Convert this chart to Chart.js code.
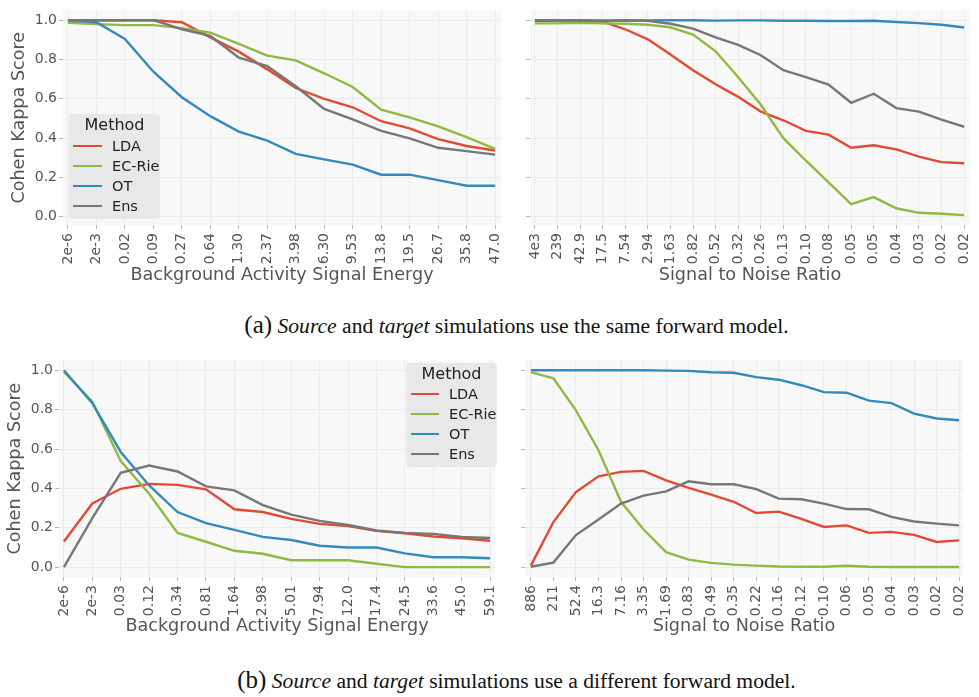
<!DOCTYPE html>
<html><head><meta charset="utf-8">
<script src="https://cdn.jsdelivr.net/npm/chart.js@4.4.1/dist/chart.umd.min.js"></script>
<style>
html,body{margin:0;padding:0;background:#fff;}
body{width:979px;height:697px;overflow:hidden;position:relative;}
.panel{position:absolute;display:block;}
.legend{position:absolute;background:rgba(229,229,229,0.85);border-radius:4px;font-family:'DejaVu Sans';color:#222;}
.legend .ttl{position:absolute;left:0;right:0;text-align:center;font-size:16px;line-height:20px;}
.legend .lab{position:absolute;font-size:14.5px;line-height:18px;}
.legend .ln{position:absolute;height:2.5px;}
.caption{position:absolute;left:0;width:979px;text-align:center;font-family:'Liberation Serif';font-size:21.6px;line-height:24px;color:#111;padding-left:54px;box-sizing:border-box;}
.caption .tag{font-size:25px;}
</style></head><body>
<canvas id="aL" class="panel"></canvas>
<canvas id="aR" class="panel"></canvas>
<canvas id="bL" class="panel"></canvas>
<canvas id="bR" class="panel"></canvas>
<div id="legA" class="legend"></div>
<div id="legB" class="legend"></div>
<div class="caption" style="top:313px"><span class="tag">(a)</span> <i>Source</i> and <i>target</i> simulations use the same forward model.</div>
<div class="caption" style="top:668px"><span class="tag">(b)</span> <i>Source</i> and <i>target</i> simulations use a different forward model.</div>
<script>
// ---- data ----
const methods = ['LDA', 'EC-Rie', 'OT', 'Ens'];
const yTickValues = [0, 0.2, 0.4, 0.6, 0.8, 1.0];
const xTitleLeft = 'Background Activity Signal Energy';
const xTitleRight = 'Signal to Noise Ratio';
const yTitle = 'Cohen Kappa Score';

const aLeftLabels = ['2e-6','2e-3','0.02','0.09','0.27','0.64','1.30','2.37','3.98','6.30','9.53','13.8','19.5','26.7','35.8','47.0'];
const aLeftLDA = [1.0,1.0,1.0,1.0,0.99,0.913,0.84,0.75,0.655,0.60,0.557,0.486,0.45,0.395,0.36,0.337];
const aLeftEC  = [0.987,0.98,0.975,0.975,0.96,0.937,0.88,0.82,0.796,0.73,0.66,0.545,0.506,0.46,0.405,0.345];
const aLeftOT  = [1.0,0.99,0.905,0.738,0.608,0.512,0.433,0.387,0.32,0.292,0.265,0.214,0.214,0.186,0.158,0.158];
const aLeftEns = [1.0,1.0,1.0,1.0,0.954,0.92,0.81,0.766,0.664,0.549,0.496,0.437,0.399,0.351,0.334,0.316];

const aRightLabels = ['4e3','239','42.9','17.5','7.54','2.94','1.63','0.82','0.52','0.32','0.26','0.13','0.10','0.08','0.05','0.05','0.04','0.03','0.02','0.02'];
const aRightLDA = [1.0,1.0,1.0,0.993,0.954,0.903,0.825,0.746,0.674,0.61,0.535,0.491,0.437,0.418,0.351,0.364,0.343,0.306,0.278,0.272];
const aRightEC  = [0.984,0.984,0.987,0.984,0.982,0.977,0.964,0.927,0.842,0.71,0.57,0.40,0.285,0.175,0.064,0.10,0.043,0.02,0.015,0.008];
const aRightOT  = [0.997,0.998,0.998,0.998,0.998,0.999,1.0,1.0,0.998,0.999,0.999,0.997,0.997,0.996,0.996,0.997,0.991,0.985,0.977,0.963];
const aRightEns = [1.0,1.0,1.0,0.997,1.0,0.997,0.982,0.957,0.913,0.875,0.822,0.746,0.71,0.672,0.58,0.626,0.553,0.535,0.494,0.458];

const bLeftLabels = ['2e-6','2e-3','0.03','0.12','0.34','0.81','1.64','2.98','5.01','7.94','12.0','17.4','24.5','33.6','45.0','59.1'];
const bLeftLDA = [0.13,0.323,0.398,0.423,0.418,0.395,0.294,0.28,0.245,0.22,0.209,0.184,0.172,0.156,0.146,0.134];
const bLeftEC  = [0.992,0.84,0.539,0.373,0.174,0.129,0.083,0.068,0.035,0.035,0.035,0.017,0.0,0.0,0.0,0.0];
const bLeftOT  = [1.0,0.833,0.585,0.415,0.28,0.224,0.189,0.154,0.138,0.109,0.1,0.1,0.07,0.05,0.05,0.045];
const bLeftEns = [0.0,0.249,0.479,0.516,0.486,0.41,0.39,0.315,0.267,0.235,0.214,0.186,0.174,0.169,0.153,0.148];

const bRightLabels = ['886','211','52.4','16.3','7.16','3.35','1.69','0.83','0.49','0.35','0.22','0.16','0.12','0.10','0.06','0.05','0.04','0.03','0.02','0.02'];
const bRightLDA = [0.008,0.229,0.381,0.461,0.484,0.489,0.441,0.403,0.368,0.332,0.275,0.282,0.245,0.204,0.212,0.174,0.179,0.164,0.128,0.136];
const bRightEC  = [0.99,0.959,0.796,0.594,0.332,0.191,0.076,0.038,0.022,0.013,0.008,0.003,0.002,0.002,0.007,0.002,0.001,0.001,0.001,0.001];
const bRightOT  = [1.0,1.0,1.0,1.0,1.0,1.0,0.998,0.997,0.99,0.987,0.965,0.952,0.924,0.889,0.886,0.846,0.833,0.78,0.755,0.746];
const bRightEns = [0.002,0.023,0.163,0.242,0.323,0.363,0.385,0.436,0.421,0.421,0.396,0.348,0.345,0.323,0.295,0.294,0.255,0.232,0.221,0.212];

// ---- style ----
const colors = ['#E24A33', '#8EBA42', '#348ABD', '#777777'];
Chart.defaults.font.family = "'DejaVu Sans'";
const TXT = '#555555';
const GRID = '#ebebeb';
const TICK = '#b8b8b8';

const bgPlugin = {
  id: 'plotbg',
  beforeDraw(c) {
    const a = c.chartArea, ctx = c.ctx;
    ctx.save();
    ctx.fillStyle = '#f8f8f8';
    ctx.fillRect(a.left, a.top, a.right - a.left, a.bottom - a.top);
    ctx.restore();
  }
};

function makeChart(id, labels, series, o) {
  const cv = document.getElementById(id);
  cv.width = o.w; cv.height = o.h;
  cv.style.left = o.left + 'px'; cv.style.top = o.top + 'px';
  cv.style.width = o.w + 'px'; cv.style.height = o.h + 'px';
  return new Chart(cv, {
    type: 'line',
    data: {
      datasets: series.map((s, k) => ({
        label: methods[k],
        data: s.map((v, i) => ({x: i, y: v})),
        borderColor: colors[k],
        backgroundColor: colors[k],
        borderWidth: 2.4,
        pointRadius: 0,
        tension: 0,
        fill: false,
        order: 3 - k
      }))
    },
    options: {
      responsive: false, animation: false, devicePixelRatio: 1,
      layout: {padding: {left: 0, right: o.padRight, top: o.padTop, bottom: 0}},
      plugins: {legend: {display: false}, tooltip: {enabled: false}},
      scales: {
        x: {
          type: 'linear', min: o.xmin, max: o.xmax,
          afterBuildTicks: s => { s.ticks = labels.map((_, i) => ({value: i})); },
          afterFit: s => { s.height = o.xh; },
          ticks: {autoSkip: false, minRotation: 90, maxRotation: 90, padding: 4, color: TXT,
                  font: {size: 14}, callback: v => labels[Math.round(v)]},
          grid: {color: GRID, tickColor: TICK, tickLength: 4, lineWidth: 1},
          border: {display: false},
          title: {display: true, text: o.xtitle, color: TXT, font: {size: 17.6}, padding: {top: 4, bottom: 4}}
        },
        y: {
          min: o.ymin, max: o.ymax,
          afterBuildTicks: s => { s.ticks = yTickValues.map(v => ({value: v})); },
          afterFit: s => { s.width = o.yw; },
          ticks: {padding: 2, color: TXT, font: {size: 14},
                  callback: v => o.ylabels ? Number(v).toFixed(1) : ''},
          grid: {color: GRID, tickColor: TICK, tickLength: 4, lineWidth: 1},
          border: {display: false},
          title: {display: !!o.ytitle, text: o.ytitle || '', color: TXT, font: {size: 17.6},
                  padding: {top: o.ytp || 0, bottom: 0}}
        }
      }
    },
    plugins: [bgPlugin]
  });
}

makeChart('aL', aLeftLabels, [aLeftLDA, aLeftEC, aLeftOT, aLeftEns],
  {left: 0, top: 0, w: 516, h: 290, padRight: 8, padTop: 5, xh: 65, yw: 63,
   xmin: -0.173, xmax: 15.207, ymin: -0.042, ymax: 1.05, xtitle: xTitleLeft, ytitle: yTitle, ytp: 9, ylabels: true});
makeChart('aR', aRightLabels, [aRightLDA, aRightEC, aRightOT, aRightEns],
  {left: 510, top: 0, w: 475, h: 290, padRight: 8, padTop: 5, xh: 65, yw: 20,
   xmin: -0.218, xmax: 19.26, ymin: -0.042, ymax: 1.05, xtitle: xTitleRight, ylabels: false});
makeChart('bL', bLeftLabels, [bLeftLDA, bLeftEC, bLeftOT, bLeftEns],
  {left: 0, top: 350, w: 511, h: 291, padRight: 8, padTop: 7, xh: 64, yw: 59,
   xmin: -0.173, xmax: 15.17, ymin: -0.05, ymax: 1.05, xtitle: xTitleLeft, ytitle: yTitle, ytp: 5, ylabels: true});
makeChart('bR', bRightLabels, [bRightLDA, bRightEC, bRightOT, bRightEns],
  {left: 505, top: 350, w: 475, h: 291, padRight: 8, padTop: 7, xh: 64, yw: 20,
   xmin: -0.26, xmax: 19.17, ymin: -0.05, ymax: 1.05, xtitle: xTitleRight, ylabels: false});

// ---- legends (HTML) ----
function makeLegend(id, box) {
  const el = document.getElementById(id);
  Object.assign(el.style, {left: box.left + 'px', top: box.top + 'px', width: box.w + 'px', height: box.h + 'px'});
  const t = document.createElement('div');
  t.className = 'ttl'; t.textContent = 'Method'; t.style.top = (box.titleY - 10) + 'px';
  el.appendChild(t);
  methods.forEach((m, k) => {
    const cy = box.row0 + k * 20;
    const ln = document.createElement('div');
    ln.className = 'ln';
    Object.assign(ln.style, {left: box.lx0 + 'px', width: (box.lx1 - box.lx0) + 'px', top: (cy - 1.25) + 'px', background: colors[k]});
    el.appendChild(ln);
    const lb = document.createElement('div');
    lb.className = 'lab'; lb.textContent = m;
    Object.assign(lb.style, {left: box.tx + 'px', top: (cy - 9) + 'px'});
    el.appendChild(lb);
  });
}
makeLegend('legA', {left: 69, top: 114, w: 91, h: 105, titleY: 11, row0: 32, lx0: 4, lx1: 33, tx: 43});
makeLegend('legB', {left: 406, top: 363, w: 91, h: 104, titleY: 11, row0: 31, lx0: 5, lx1: 33, tx: 43});
</script>
</body></html>
